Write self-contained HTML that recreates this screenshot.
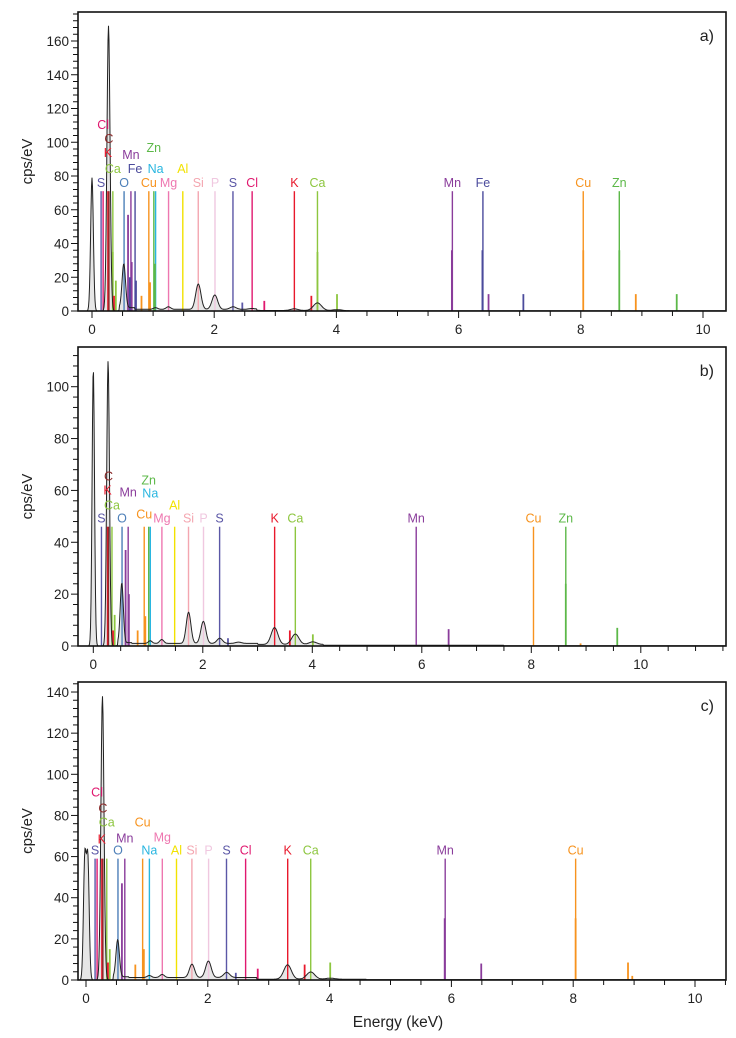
<!DOCTYPE html>
<html><head><meta charset="utf-8">
<style>
html,body{margin:0;padding:0;background:#fff;}
svg{display:block;font-family:"Liberation Sans",Arial,sans-serif;}
</style></head>
<body>
<svg id="chart" width="736" height="1038" viewBox="0 0 736 1038"></svg>
<script>
// ===== Data =====
const elements = ["C","O","Na","Mg","Al","Si","P","S","Cl","K","Ca","Mn","Fe","Cu","Zn"];
const elementColors = ["#8b2a2a","#4d7fb8","#29b6e0","#ee77b0","#f2e200","#f4a6b0","#f0c8e0","#5b57a6","#e0186f","#e8192c","#8dc63f","#8a3c9b","#4b4b9c","#f7931e","#5cb848"];

// panel a
const aMarkLabels = ["S","Cl","K","C","Ca","O","Mn","Fe","Cu","Zn","Na","Mg","Al","Si","P","S","Cl","K","Ca","Mn","Fe","Cu","Zn"];
const aMarkEnergy = [0.149,0.182,0.26,0.277,0.341,0.525,0.637,0.705,0.93,1.012,1.041,1.253,1.486,1.739,2.013,2.307,2.621,3.312,3.69,5.898,6.398,8.04,8.63];
const aMarkHeight = 71;
const aSubLabels = ["Ca","Mn","Mn","Fe","Fe","Cu","Cu","Zn","Ca","K","Cl","S","K","Ca","Ca","Mn","Mn","Fe","Fe","Cu","Cu","Zn","Zn"];
const aSubEnergy = [0.39,0.59,0.65,0.62,0.72,0.95,0.81,1.03,0.34,0.36,2.82,2.46,3.59,3.69,4.01,5.89,6.49,6.39,7.06,8.04,8.9,8.63,9.57];
const aSubHeight = [18,57,29,20,18,17,9,28,35,9,6,5,9,35,10,36,10,36,10,36,10,36,10];
const aPeakEnergy = [0,0.27,0.52,1.04,1.25,1.74,2.01,2.31,2.62,3.31,3.69,4.01];
const aPeakHeight = [79,169,26,1,1.5,15,8.5,1.5,0.5,1,4.5,0.5];
const aBgEnergy = [0.7,2.7,4.1,5.5,10.4];
const aBgLevel = [2,1,0.3,0.2,0.1];

// panel b
const bMarkLabels = ["S","K","C","Ca","O","Mn","Cu","Zn","Na","Mg","Al","Si","P","S","K","Ca","Mn","Cu","Zn"];
const bMarkEnergy = [0.149,0.26,0.277,0.341,0.525,0.637,0.93,1.012,1.041,1.253,1.486,1.739,2.013,2.307,3.312,3.69,5.898,8.04,8.63];
const bMarkHeight = 46;
const bSubLabels = ["Ca","Mn","Mn","Cu","Cu","K","S","K","Ca","Mn","Zn","Zn","Cu"];
const bSubEnergy = [0.39,0.59,0.65,0.95,0.81,0.36,2.46,3.59,4.01,6.49,8.63,9.57,8.9];
const bSubHeight = [12,37,20,11.5,6,6,3,6,4.5,6.5,24,7,1];
const bPeakEnergy = [0,0.27,0.52,1.04,1.25,1.74,2.01,2.31,2.65,3.31,3.69,4.01];
const bPeakHeight = [107,110,23,1,1.5,12,8.5,2,0.5,6.5,4,1];
const bBgEnergy = [0.7,3.0,4.2,7.5,11.6];
const bBgLevel = [1.3,1,0.6,0.3,0.1];

// panel c
const cMarkLabels = ["S","Cl","K","C","Ca","O","Mn","Cu","Na","Mg","Al","Si","P","S","Cl","K","Ca","Mn","Cu"];
const cMarkEnergy = [0.149,0.182,0.26,0.277,0.341,0.525,0.637,0.93,1.041,1.253,1.486,1.739,2.013,2.307,2.621,3.312,3.69,5.898,8.04];
const cMarkHeight = 59;
const cSubLabels = ["Ca","Mn","Cu","Cu","K","S","Cl","K","Ca","Mn","Mn","Cu","Cu","Cu"];
const cSubEnergy = [0.39,0.59,0.95,0.81,0.36,2.46,2.82,3.59,4.01,5.89,6.49,8.04,8.9,8.97];
const cSubHeight = [15,47,15,7.5,8.5,3.5,5.5,7.5,8.5,30,8,30,8.5,2];
const cPeakEnergy = [-0.02,0.03,0.27,0.52,1.04,1.25,1.74,2.01,2.31,3.31,3.69,4.01];
const cPeakHeight = [58,58,138,18,1,1.5,6.5,8,2.5,7,3.5,0.5];
const cBgEnergy = [0.7,2.8,4.6,10.6];
const cBgLevel = [1.6,1.2,0.4,0.2];

// ===== Layout (not data) =====
const aLift = [0,58,30,44,14,0,28,14,0,35,14,0,14,0,0,0,0,0,0,0,0,0,0];
const bLift = [0,28,42,13,0,26,4,38,25,0,13,0,0,0,0,0,0,0,0];
const cLift = [0,58,11,42,28,0,12,28,0,13,0,0,0,0,0,0,0,0,0];

const panels = [
 {id:"a",tag:"a)",top:12,bottom:311,left:78,right:726,x0:92,k:61.1,yk:1.6875,yTicks:[0,20,40,60,80,100,120,140,160],yMinorStep:4,xTicks:[0,2,4,6,8,10],marks:[aMarkLabels,aMarkEnergy,aMarkHeight,aLift],subs:[aSubLabels,aSubEnergy,aSubHeight],peaks:[aPeakEnergy,aPeakHeight],bg:[aBgEnergy,aBgLevel]},
 {id:"b",tag:"b)",top:347,bottom:646,left:78,right:726,x0:93.3,k:54.75,yk:2.593,yTicks:[0,20,40,60,80,100],yMinorStep:4,xTicks:[0,2,4,6,8,10],marks:[bMarkLabels,bMarkEnergy,bMarkHeight,bLift],subs:[bSubLabels,bSubEnergy,bSubHeight],peaks:[bPeakEnergy,bPeakHeight],bg:[bBgEnergy,bBgLevel]},
 {id:"c",tag:"c)",top:682,bottom:980,left:78,right:726,x0:86,k:60.9,yk:2.057,yTicks:[0,20,40,60,80,100,120,140],yMinorStep:4,xTicks:[0,2,4,6,8,10],marks:[cMarkLabels,cMarkEnergy,cMarkHeight,cLift],subs:[cSubLabels,cSubEnergy,cSubHeight],peaks:[cPeakEnergy,cPeakHeight],bg:[cBgEnergy,cBgLevel]}
];

const NS="http://www.w3.org/2000/svg";
const svg=document.getElementById("chart");
function mk(tag,attrs,parent){const e=document.createElementNS(NS,tag);for(const k in attrs)e.setAttribute(k,attrs[k]);(parent||svg).appendChild(e);return e;}
function colorOf(el){return elementColors[elements.indexOf(el)];}

panels.forEach(p=>{
  const g=mk("g",{});
  
  
  const xs=e=>p.x0+e*p.k;
  const ys=v=>p.bottom-v*p.yk;
  const xmin=(p.left-p.x0)/p.k, xmax=(p.right-p.x0)/p.k;
  const ymax=(p.bottom-p.top)/p.yk;
  // spectrum
  function bgAt(e){const E=p.bg[0],L=p.bg[1];if(e<0.45)return 0;for(let i=0;i<E.length;i++){if(e<=E[i])return L[i];}return L[L.length-1];}
  let pts=[];
  for(let px=p.left+1;px<=p.right-1;px+=0.5){
    const e=(px-p.x0)/p.k;let v=bgAt(e);
    for(let i=0;i<p.peaks[0].length;i++){const c=p.peaks[0][i];const s=0.022+0.012*Math.max(0,c);v+=p.peaks[1][i]*Math.exp(-0.5*Math.pow((e-c)/s,2));}
    v=Math.min(v,ymax);
    pts.push([px,ys(v)]);
  }
  const d="M"+pts.map(q=>q[0].toFixed(1)+","+q[1].toFixed(1)).join("L");
  const fill=mk("path",{d:d+"L"+(p.right-1)+","+p.bottom+"L"+(p.left+1)+","+p.bottom+"Z",fill:"#e6e6e6",stroke:"none"},g);
  
  
  // marker lines
  const [ml,me,mh,lift]=p.marks;
  ml.forEach((lab,i)=>{
    const x=xs(me[i]);const col=colorOf(lab);
    const ln=mk("line",{x1:x,x2:x,y1:p.bottom,y2:ys(mh),stroke:col,"stroke-width":1.4},g);
    
    
  });
  const [sl,se,sh]=p.subs;
  sl.forEach((lab,i)=>{
    const x=xs(se[i]);
    const ln=mk("line",{x1:x,x2:x,y1:p.bottom,y2:ys(sh[i]),stroke:colorOf(lab),"stroke-width":1.8},g);
    
    
  });
  const line=mk("path",{d:d,fill:"none",stroke:"#222","stroke-width":1},g);
  
  
  ml.forEach((lab,i)=>{
    const x=xs(me[i]);
    const t=mk("text",{x:x,y:ys(mh)-4-lift[i],"text-anchor":"middle","font-size":12.5,fill:colorOf(lab)},g);
    t.textContent=lab;
    
    
  });
  // frame
  const fr=mk("rect",{x:p.left,y:p.top,width:p.right-p.left,height:p.bottom-p.top,fill:"none",stroke:"#111","stroke-width":1.6},g);
  
  
  // y ticks
  for(let v=0;v<=ymax;v+=p.yMinorStep){
    const y=ys(v);const major=p.yTicks.indexOf(v)>=0;
    mk("line",{x1:p.left-(major?7:5),x2:p.left,y1:y,y2:y,stroke:"#111","stroke-width":1},g);
  }
  p.yTicks.forEach(v=>{
    const t=mk("text",{x:p.left-9,y:ys(v)+5,"text-anchor":"end","font-size":13.5,fill:"#222"},g);
    t.textContent=v;
    
    
  });
  // x ticks
  for(let e=Math.ceil(xmin*2)/2;e<=xmax;e+=0.5){
    const x=xs(e);const major=Math.abs(e-Math.round(e/2)*2)<1e-6;
    mk("line",{x1:x,x2:x,y1:p.bottom,y2:p.bottom+(major?7:5),stroke:"#111","stroke-width":1},g);
  }
  p.xTicks.forEach(v=>{
    const t=mk("text",{x:xs(v),y:p.bottom+23,"text-anchor":"middle","font-size":13.5,fill:"#222"},g);
    t.textContent=v;
    
    
  });
  // y title
  const cy=(p.top+p.bottom)/2;
  const yt=mk("text",{x:0,y:0,transform:"translate(32,"+cy+") rotate(-90)","text-anchor":"middle","font-size":15,fill:"#222"},g);
  yt.textContent="cps/eV";
  
  
  // tag
  const tg=mk("text",{x:714,y:p.top+29,"text-anchor":"end","font-size":16,fill:"#222"},g);
  tg.textContent=p.tag;
  
  
});
const xt=mk("text",{x:398,y:1027,"text-anchor":"middle","font-size":15.5,fill:"#222"});
xt.textContent="Energy (keV)";


</script>
</body></html>
